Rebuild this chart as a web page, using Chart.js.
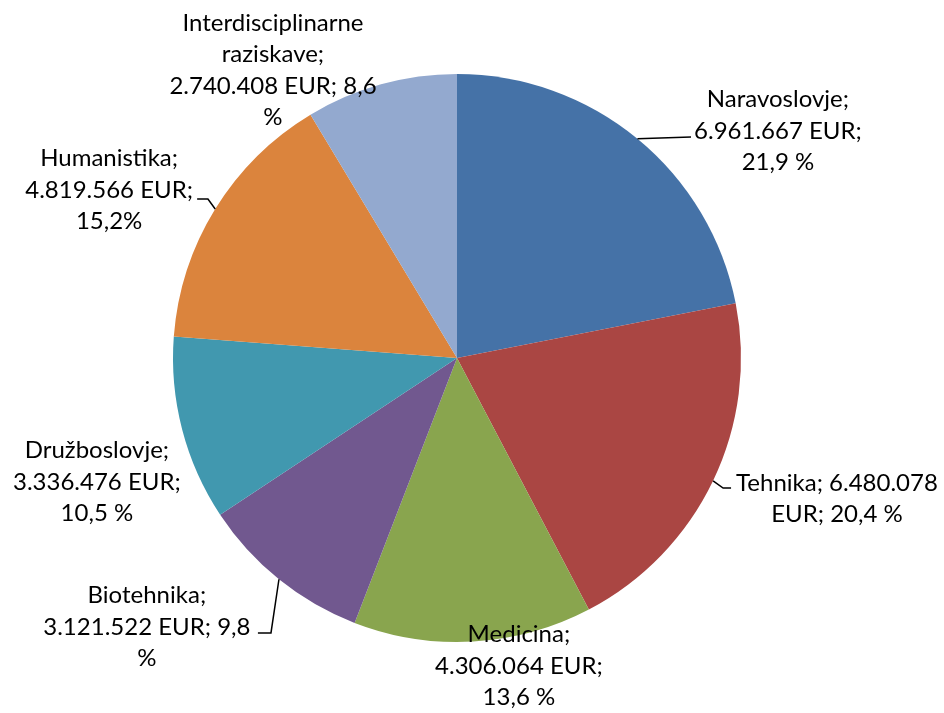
<!DOCTYPE html>
<html>
<head>
<meta charset="utf-8">
<script src="https://cdn.jsdelivr.net/npm/chart.js@4/dist/chart.umd.min.js"></script>
<style>
  html, body { margin: 0; padding: 0; background: #fff; }
  #wrap { width: 944px; height: 713px; }
</style>
</head>
<body>
<div id="wrap"><canvas id="pieChart" width="944" height="713"></canvas></div>
<script>
// Data
const categories = ['Naravoslovje', 'Tehnika', 'Medicina', 'Biotehnika', 'Družboslovje', 'Humanistika', 'Interdisciplinarne raziskave'];
const amounts = [6961667, 6480078, 4306064, 3121522, 3336476, 4819566, 2740408];
const shares = ['21,9 %', '20,4 %', '13,6 %', '9,8 %', '10,5 %', '15,2%', '8,6 %'];
const colors = ['#4572A7', '#AA4643', '#89A54E', '#71588F', '#4198AF', '#DB843D', '#93A9CF'];

// label text as wrapped in the original (Excel style)
const labelLines = [
    ['Naravoslovje;', '6.961.667 EUR;', '21,9 %'],
    ['Tehnika; 6.480.078', 'EUR; 20,4 %'],
    ['Medicina;', '4.306.064 EUR;', '13,6 %'],
    ['Biotehnika;', '3.121.522 EUR; 9,8', '%'],
    ['Družboslovje;', '3.336.476 EUR;', '10,5 %'],
    ['Humanistika;', '4.819.566 EUR;', '15,2%'],
    ['Interdisciplinarne', 'raziskave;', '2.740.408 EUR; 8,6', '%']
];

// label block centres and leader points, in units of the pie radius from its centre
const labelLayout = [
    { at: [1.130, -0.799], leader: [[0.824, -0.778]] },
    { at: [1.338, 0.496], leader: [[0.937, 0.458], [0.965, 0.458]] },
    { at: [0.218, 1.085] },
    { at: [-1.092, 0.947], leader: [[-0.655, 0.968], [-0.701, 0.968]] },
    { at: [-1.268, 0.437] },
    { at: [-1.225, -0.592], leader: [[-0.877, -0.560], [-0.915, -0.560]] },
    { at: [-0.648, -1.014] }
];

const FONT = '24px Lato';
const LINE_H = 31.5;

const pieLabels = {
    id: 'pieLabels',
    afterDatasetsDraw(chart) {
        const ctx = chart.ctx;
        const arcs = chart.getDatasetMeta(0).data;
        ctx.save();
        ctx.font = FONT;
        ctx.fillStyle = '#000';
        ctx.strokeStyle = '#000';
        ctx.lineWidth = 1.5;
        ctx.textAlign = 'center';
        ctx.textBaseline = 'middle';
        arcs.forEach((arc, i) => {
            const p = arc.getProps(['x', 'y', 'startAngle', 'endAngle', 'outerRadius'], true);
            const r = p.outerRadius;
            const mid = (p.startAngle + p.endAngle) / 2;
            const lay = labelLayout[i];
            if (lay.leader) {
                ctx.beginPath();
                ctx.moveTo(p.x + Math.cos(mid) * r, p.y + Math.sin(mid) * r);
                lay.leader.forEach(pt => ctx.lineTo(p.x + pt[0] * r, p.y + pt[1] * r));
                ctx.stroke();
            }
            const lines = labelLines[i];
            const cx = p.x + lay.at[0] * r;
            const cy = p.y + lay.at[1] * r;
            lines.forEach((t, j) => {
                ctx.fillText(t, cx, cy + (j - (lines.length - 1) / 2) * LINE_H);
            });
        });
        ctx.restore();
    }
};

new Chart(document.getElementById('pieChart').getContext('2d'), {
    type: 'pie',
    data: {
        labels: categories,
        datasets: [{
            data: amounts,
            backgroundColor: colors,
            borderWidth: 0
        }]
    },
    options: {
        responsive: false,
        animation: false,
        layout: { padding: { left: 173, right: 203, top: 74, bottom: 71 } },
        plugins: {
            legend: { display: false },
            tooltip: { enabled: false }
        }
    },
    plugins: [pieLabels]
});
</script>
</body>
</html>
